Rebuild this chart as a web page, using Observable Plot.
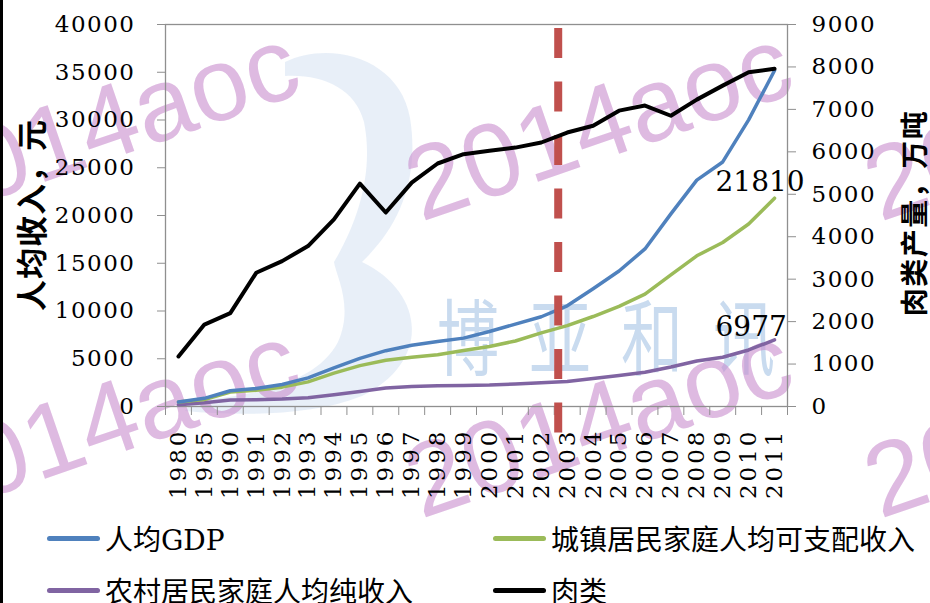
<!DOCTYPE html>
<html>
<head>
<meta charset="utf-8">
<script src="https://cdn.jsdelivr.net/npm/d3@7"></script>
<script src="https://cdn.jsdelivr.net/npm/@observablehq/plot@0.6"></script>
<style>
  html, body { margin: 0; padding: 0; background: #fff; }
  #wrap { position: relative; width: 930px; height: 603px; overflow: hidden; background: #fff; }
  #wm, #chart { position: absolute; left: 0; top: 0; }
  #border { position: absolute; left: 0; top: 0; width: 3px; height: 603px; background: #000; }
  .ytitle { position: absolute; font-family: "Noto Sans CJK SC", sans-serif; font-weight: 700; white-space: nowrap;
            transform: translate(-50%, -50%) rotate(-90deg); color: #000; line-height: 1; }
  .leg { position: absolute; height: 40px; display: flex; align-items: center; white-space: nowrap;
         font-family: "DejaVu Serif", "Noto Sans CJK SC", serif; font-size: 28px; color: #000; }
  .sw { width: 53px; height: 5px; border-radius: 2.5px; margin-right: 5px; }
  #chart svg g[aria-label="y-axis tick label"] text { letter-spacing: 1.5px; }
  #chart svg g[aria-label="x-axis tick label"] text { letter-spacing: 3px; }
</style>
</head>
<body>
<div id="wrap">
  <div id="wm"></div>
  <div id="chart"></div>
  <div id="border"></div>
</div>
<script>
// ---- data ----
const years = ["1980","1985","1990","1991","1992","1993","1994","1995","1996","1997","1998","1999",
               "2000","2001","2002","2003","2004","2005","2006","2007","2008","2009","2010","2011"];
const gdp   = [463, 858, 1644, 1893, 2311, 2998, 4044, 5046, 5846, 6420, 6796, 7159,
               7858, 8622, 9398, 10542, 12336, 14185, 16500, 20169, 23708, 25608, 30015, 35181];
const urban = [478, 739, 1510, 1701, 2027, 2577, 3496, 4283, 4839, 5160, 5425, 5854,
               6280, 6860, 7703, 8472, 9422, 10493, 11759, 13786, 15781, 17175, 19109, 21810];
const rural = [191, 398, 686, 709, 784, 922, 1221, 1578, 1926, 2090, 2162, 2210,
               2253, 2366, 2476, 2622, 2936, 3255, 3587, 4140, 4761, 5153, 5919, 6977];
const meat  = [1180, 1930, 2200, 3150, 3425, 3780, 4410, 5250, 4570, 5275, 5725, 5945,
               6025, 6100, 6220, 6455, 6615, 6970, 7090, 6850, 7230, 7560, 7875, 7955];
const leftTicks  = [0, 5000, 10000, 15000, 20000, 25000, 30000, 35000, 40000];
const rightTicks = [0, 1000, 2000, 3000, 4000, 5000, 6000, 7000, 8000, 9000];
const seriesNames = ["人均GDP", "城镇居民家庭人均可支配收入", "农村居民家庭人均纯收入", "肉类"];
const markerYear = "2003";
const leftTitle = "人均收入，元";
const rightTitle = "肉类产量，万吨";

// ---- styles ----
const colors = { gdp: "#4f81bd", urban: "#9bbb59", rural: "#8064a2", meat: "#000000", marker: "#c0504d" };
const leftMax = 40000, rightMax = 9000;
const k = leftMax / rightMax;      // map right axis into left-axis units
const n = years.length;
const idx = (d, i) => i;

const chart = Plot.plot({
  width: 930, height: 515,
  marginLeft: 165, marginRight: 143, marginTop: 24, marginBottom: 109,
  style: { fontFamily: '"DejaVu Serif", serif', background: "transparent", color: "#000", overflow: "visible" },
  x: { type: "linear", domain: [-0.5, n - 0.5], axis: null },
  y: { domain: [0, leftMax], axis: null },
  marks: [
    Plot.frame({ stroke: "#8f8f8f", strokeWidth: 1.3 }),
    Plot.axisY({ anchor: "left", ticks: leftTicks, tickSize: 8, tickPadding: 22, stroke: "#8f8f8f", fill: "#000",
                 fontSize: 23, tickFormat: d => String(d) }),
    Plot.axisY({ anchor: "right", ticks: rightTicks.map(v => v * k), tickSize: 8, tickPadding: 16, stroke: "#8f8f8f",
                 fill: "#000", fontSize: 23, tickFormat: d => String(Math.round(d / k)) }),
    Plot.axisX({ anchor: "bottom", ticks: d3.range(-0.5, n, 1), tickSize: 9, stroke: "#8f8f8f", tickFormat: () => "" }),
    Plot.axisX({ anchor: "bottom", ticks: d3.range(n), tickSize: 0, tickPadding: 22, tickRotate: -90,
                 fill: "#000", fontSize: 23, tickFormat: i => years[i] }),
    Plot.line(rural, { x: idx, y: d => d, stroke: colors.rural, strokeWidth: 3.5, strokeLinejoin: "round", strokeLinecap: "round" }),
    Plot.line(urban, { x: idx, y: d => d, stroke: colors.urban, strokeWidth: 3.5, strokeLinejoin: "round", strokeLinecap: "round" }),
    Plot.line(gdp,   { x: idx, y: d => d, stroke: colors.gdp,   strokeWidth: 3.5, strokeLinejoin: "round", strokeLinecap: "round" }),
    Plot.ruleX([years.indexOf(markerYear)], { x: d => d, dx: -9, stroke: colors.marker, strokeWidth: 8,
                 strokeDasharray: "30 23.5", insetTop: 4, insetBottom: -27 }),
    Plot.line(meat,  { x: idx, y: d => d * k, stroke: colors.meat, strokeWidth: 4, strokeLinejoin: "round", strokeLinecap: "round" }),
    Plot.text([n - 1], { x: d => d, y: d => urban[d], text: d => String(urban[d]), textAnchor: "start",
                 dx: -59, dy: -16, fontSize: 28, fill: "#000" }),
    Plot.text([n - 1], { x: d => d, y: d => rural[d], text: d => String(rural[d]), textAnchor: "start",
                 dx: -59, dy: -13, fontSize: 28, fill: "#000" })
  ]
});
document.getElementById("chart").appendChild(chart);

// ---- axis titles ----
const wrap = document.getElementById("wrap");
function addTitle(text, cx, cy, size, spacing) {
  const d = document.createElement("div");
  d.className = "ytitle";
  d.textContent = text;
  d.style.left = cx + "px"; d.style.top = cy + "px";
  d.style.fontSize = size + "px"; d.style.letterSpacing = spacing + "px";
  wrap.appendChild(d);
}
addTitle(leftTitle, 29, 215, 31, 1);
addTitle(rightTitle, 913, 213, 28, 1.5);

// ---- legend ----
const legendItems = [
  { name: seriesNames[0], color: colors.gdp,   left: 47,  cy: 538 },
  { name: seriesNames[1], color: colors.urban, left: 493, cy: 538 },
  { name: seriesNames[2], color: colors.rural, left: 47,  cy: 590 },
  { name: seriesNames[3], color: colors.meat,  left: 493, cy: 590 }
];
legendItems.forEach(it => {
  const d = document.createElement("div");
  d.className = "leg";
  d.style.left = it.left + "px"; d.style.top = (it.cy - 20) + "px";
  const sw = document.createElement("div");
  sw.className = "sw"; sw.style.background = it.color;
  const t = document.createElement("span");
  t.textContent = it.name;
  d.appendChild(sw); d.appendChild(t);
  wrap.appendChild(d);
});

// ---- watermark / logo (decoration) ----
const wmText = "2014aoc";
const logoText = "博亚和讯";
const wmAnchors = [[-72, 222], [421, 222], [880, 222], [-72, 519], [421, 519], [880, 519]];
let wm = '<svg xmlns="http://www.w3.org/2000/svg" width="930" height="603">';
wm += '<path d="M285,62 C330,40 400,58 410,118 C420,180 398,228 362,262 C425,292 432,362 362,396 C312,416 242,416 185,411 L192,401 C262,396 318,380 338,342 C354,306 336,276 334,262 C358,222 374,172 364,122 C355,88 322,74 285,76 Z" fill="#dbe7f4" fill-opacity="0.65"/>';
wm += `<text x="437" y="368" font-family="Noto Sans CJK SC" font-size="62" fill="#c9dbef" letter-spacing="30" transform="translate(0,-120) scale(1,1.33)">${logoText}</text>`;
wmAnchors.forEach(([x, y]) => {
  wm += `<text x="${x}" y="${y}" transform="rotate(-19 ${x} ${y})" font-family="Liberation Sans, Arial, sans-serif" font-size="104" fill="rgb(200,140,205)" fill-opacity="0.6">${wmText}</text>`;
});
wm += '</svg>';
document.getElementById("wm").innerHTML = wm;
</script>
</body>
</html>
